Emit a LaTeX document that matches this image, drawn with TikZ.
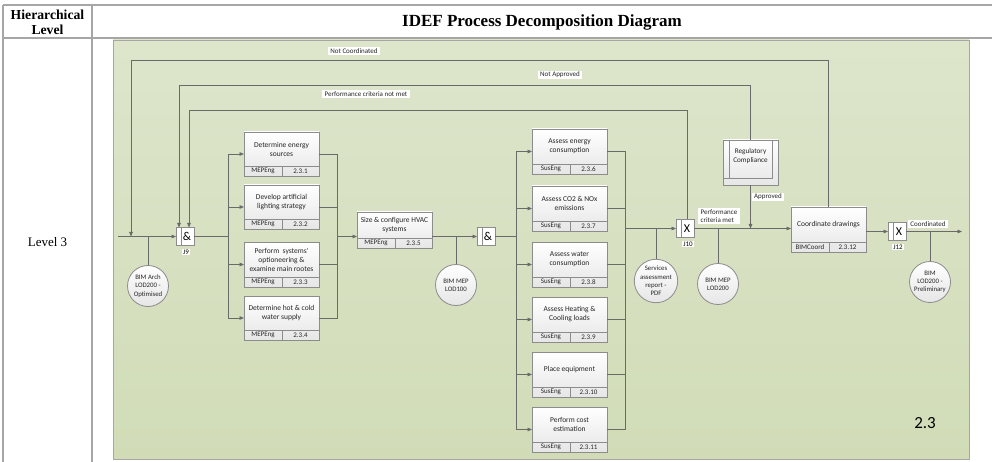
\documentclass[tikz,border=0pt]{standalone}
\usepackage{fontspec}
\setmainfont{Liberation Serif}
\newfontfamily\calfont{Carlito}
\usetikzlibrary{arrows.meta,calc}

\definecolor{panelTop}{HTML}{DDE5CB}
\definecolor{panelBot}{HTML}{D1DCB7}
\definecolor{rulegray}{HTML}{A6A6A6}
\definecolor{wire}{HTML}{6A6A6A}
\definecolor{boxedge}{HTML}{8C8C8C}
\definecolor{boxbot}{HTML}{E6E6E6}

\tikzset{
  wire/.style={draw=wire, line width=0.8pt},
  arr/.style={wire, -{Triangle[length=4.5pt,width=3.6pt]}},
  actbox/.style={draw=boxedge, line width=0.8pt, top color=white, bottom color=boxbot,
    minimum width=75pt, anchor=north west, inner sep=0pt, outer sep=0pt},
  acttext/.style={font=\calfont\fontsize{7.5}{9}\selectfont, align=center, text=black!85, inner sep=0pt},
  footcell/.style={font=\calfont\fontsize{7}{8}\selectfont, text=black!85, inner sep=0pt},
  junc/.style={draw=boxedge, line width=0.8pt, fill=white, minimum width=18pt, minimum height=18pt,
    inner sep=0pt, outer sep=0pt, font=\calfont\fontsize{12}{12}\selectfont,
    path picture={\draw[boxedge, line width=0.6pt]
      ([xshift=5pt]path picture bounding box.north west) --
      ([xshift=5pt]path picture bounding box.south west);}},
  jlabel/.style={fill=white, font=\calfont\fontsize{7}{7}\selectfont, inner sep=1pt},
  store/.style={circle, draw=boxedge, line width=0.8pt, top color=white, bottom color=boxbot,
    minimum size=41pt, inner sep=0pt, align=center, text=black!85,
    font=\calfont\fontsize{6.8}{8.3}\selectfont},
  tag/.style={fill=white, font=\calfont\fontsize{7}{8}\selectfont, text=black!85,
    inner xsep=2.5pt, inner ysep=1.5pt},
  regbox/.style={draw=boxedge, line width=0.8pt, top color=white, bottom color=boxbot,
    minimum width=55pt, minimum height=45pt, inner sep=0pt, outer sep=0pt, align=center,
    text=black!85, font=\calfont\fontsize{7.2}{9}\selectfont,
    path picture={
      \draw[boxedge, line width=0.6pt]
        ([xshift=6pt]path picture bounding box.north west) |-
        ([xshift=-6pt,yshift=7pt]path picture bounding box.south east) --
        ([xshift=-6pt]path picture bounding box.north east);
      \draw[boxedge, line width=0.6pt]
        ([yshift=7pt]path picture bounding box.south west) --
        ([xshift=6pt,yshift=7pt]path picture bounding box.south west);}},
}

% activity box: name, left, top, total height, title, role, number
\newcommand{\actnode}[7]{%
  \node[actbox, minimum height=#4pt] (#1) at (#2,#3) {};
  \draw[boxedge, line width=0.8pt] ([yshift=10pt]#1.south west) -- ([yshift=10pt]#1.south east);
  \draw[boxedge, line width=0.8pt] ([xshift=38pt]#1.south west) -- ([xshift=38pt,yshift=10pt]#1.south west);
  \node[acttext] (#1-t) at ($(#1.north)!0.5!([yshift=10pt]#1.south)$) {#5};
  \node[footcell] (#1-r) at ([xshift=19pt,yshift=5pt]#1.south west) {#6};
  \node[footcell] (#1-n) at ([xshift=56.5pt,yshift=5pt]#1.south west) {#7};
}

\begin{document}
\begin{tikzpicture}[x=1pt, y=-1pt]
\useasboundingbox (0,0) rectangle (992,462);
\fill[white] (0,0) rectangle (992,462);

% table frame
\draw[rulegray, line width=1.5pt] (3,5) -- (992,5);
\draw[rulegray, line width=2pt] (3,38) -- (992,38);
\draw[rulegray, line width=1.2pt] (3,5) -- (3,462);
\draw[rulegray, line width=1.2pt] (92,5) -- (92,462);
\node[font=\bfseries\fontsize{13.7}{15}\selectfont, align=center] (hlevel) at (47.5,22) {Hierarchical\\Level};
\node[font=\bfseries\fontsize{17}{20}\selectfont] (htitle) at (542,22) {IDEF Process Decomposition Diagram};
\node[font=\fontsize{13}{15}\selectfont] (lvl) at (47.5,242) {Level 3};

% diagram panel
\path[draw=rulegray, line width=0.8pt, top color=panelTop, bottom color=panelBot] (113,40) rectangle (969,459);
\node[font=\calfont\fontsize{17}{20}\selectfont] (num) at (925,423) {2.3};

% first parallel group
\actnode{b231}{244}{132}{44}{Determine energy\\sources}{MEPEng}{2.3.1}
\actnode{b232}{244}{185}{44}{Develop artificial\\lighting strategy}{MEPEng}{2.3.2}
\actnode{b233}{244}{242}{45}{Perform\ \ systems'\\optioneering \&\\examine main rootes}{MEPEng}{2.3.3}
\actnode{b234}{244}{296}{44}{Determine hot \& cold\\water supply}{MEPEng}{2.3.4}
\actnode{b235}{357}{212}{36}{Size \& configure HVAC\\systems}{MEPEng}{2.3.5}

% second parallel group
\actnode{b236}{532}{129}{45}{Assess energy\\consumption}{SusEng}{2.3.6}
\actnode{b237}{532}{186}{45}{Assess CO2 \& NOx\\emissions}{SusEng}{2.3.7}
\actnode{b238}{532}{242}{45}{Assess water\\consumption}{SusEng}{2.3.8}
\actnode{b239}{532}{297}{45}{Assess Heating \&\\Cooling loads}{SusEng}{2.3.9}
\actnode{b2310}{532}{352}{45}{Place equipment}{SusEng}{2.3.10}
\actnode{b2311}{532}{407}{45}{Perform cost\\estimation}{SusEng}{2.3.11}

\actnode{b2312}{791}{207}{45}{Coordinate drawings}{BIMCoord}{2.3.12}

\node[regbox] (reg) at (750.5,162.5) {Regulatory\\Compliance\\[4pt]};

% junctions
\node[junc] (j9) at (185,236.5) {\kern4pt\&};
\node[junc] (ja) at (486,236.5) {\kern4pt\&};
\node[junc] (j10) at (685,228.5) {\kern4pt X};
\node[junc] (j12) at (897,231.5) {\kern4pt X};
\node[jlabel] (j9l) at (186,252) {J9};
\node[jlabel] (j10l) at (688,244) {J10};
\node[jlabel] (j12l) at (898,247) {J12};

% data stores
\node[store] (arch) at (148,286) {BIM Arch\\LOD200 -\\Optimised};
\node[store] (mep1) at (456,285) {BIM MEP\\LOD100};
\node[store] (srv) at (656,281) {Services\\assessment\\report -\\PDF};
\node[store] (mep2) at (718,284) {BIM MEP\\LOD200};
\node[store] (prel) at (930,282) {BIM\\LOD200 -\\Preliminary};

% routing points
\coordinate (in0) at (118,236.5);
\coordinate (s1) at (228,236.5);
\coordinate (m1) at (337,236.5);
\coordinate (s2) at (516,236.5);
\coordinate (m2) at (625,228.5);
\coordinate (out) at (962,231.5);
\coordinate (fbA) at (131,60);
\coordinate (fbB) at (179,85);
\coordinate (fbC) at (189,110);

% main flow
\draw[arr] (in0) -- (j9.west);
\draw[wire] (arch) -- (arch |- in0);
\draw[wire] (j9.east) -- (s1);
\foreach \b in {b231,b232,b233,b234} {
  \draw[arr] (s1) |- (\b.west);
  \draw[wire] (\b.east) -| (m1);
}
\draw[arr] (m1) -- (m1 -| b235.west);
\draw[arr] (b235.east |- m1) -- (ja.west);
\draw[wire] (mep1) -- (mep1 |- m1);
\draw[wire] (ja.east) -- (s2);
\foreach \b in {b236,b237,b238,b239,b2310,b2311} {
  \draw[arr] (s2) |- (\b.west);
  \draw[wire] (\b.east) -| (m2);
}
\draw[arr] (m2) -- (j10.west);
\draw[wire] (srv) -- (srv |- m2);
\draw[arr] (j10.east) -- (j10.east -| b2312.west);
\draw[wire] (mep2) -- (mep2 |- j10.east);
\draw[arr] (reg.south) -- (reg.south |- j10.east);
\draw[arr] (b2312.east |- j12.west) -- (j12.west);
\draw[arr] (j12.east) -- (out);
\draw[wire] (prel) -- (prel |- out);

% feedback loops
\draw[arr] (b2312.north) |- (fbA) -- (fbA |- in0);
\draw[arr] (reg.north) |- (fbB) -- (fbB |- j9.north);
\draw[arr] ([xshift=2pt]j10.north) |- (fbC) -- (fbC |- j9.north);

% connector labels
\node[tag] (tNC) at (354,51) {Not Coordinated};
\node[tag] (tNA) at (560,75) {Not Approved};
\node[tag] (tPN) at (366,94) {Performance criteria not met};
\node[tag, align=left] (tPM) at (719,216) {Performance\\criteria met};
\node[tag] (tAp) at (768,197) {Approved};
\node[tag] (tCo) at (928,224) {Coordinated};
\end{tikzpicture}
\end{document}
